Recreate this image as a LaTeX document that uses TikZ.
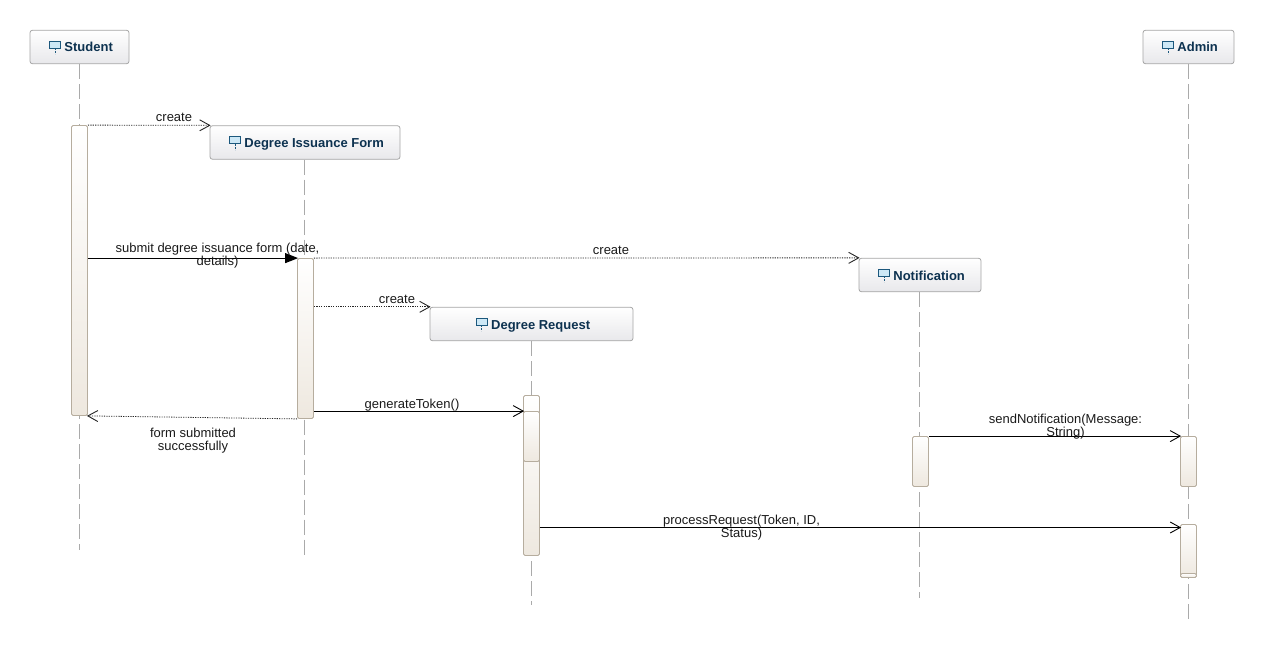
\documentclass[tikz,border=0pt]{standalone}
\usepackage{fontspec}
\setmainfont{Liberation Sans}
\usetikzlibrary{arrows.meta, positioning}
\definecolor{headtext}{RGB}{13,50,80}
\definecolor{headline}{RGB}{165,165,165}
\definecolor{headfill}{RGB}{232,232,235}
\definecolor{barline}{RGB}{182,173,158}
\definecolor{barfill}{RGB}{238,232,223}
\definecolor{lifeline}{RGB}{170,170,170}
\definecolor{iconfill}{RGB}{205,232,246}
\definecolor{iconline}{RGB}{28,88,125}
\newcommand{\lifeicon}{\hspace*{3pt}\smash{\tikz[baseline=-5pt, x=1pt, y=-1pt]{
  \draw[iconline, fill=iconfill, line width=0.8pt, sharp corners] (0,-6) rectangle (11,1);
  \draw[iconline, line width=0.8pt, dash pattern=on 2pt off 1pt] (5.5,1) -- (5.5,7);
}}\kern3.5pt}
\tikzset{
>={Straight Barb[length=10pt, width=11pt, line width=0.9pt]}, % makes the open arrow heads
head/.style={draw=headline, line width=0.8pt, rounded corners=2.5pt, top color=white, bottom color=headfill, minimum height=33.5pt, inner sep=0pt, text height=10pt, text depth=0pt, text=headtext, font=\fontsize{13}{13}\selectfont\bfseries}, % the boxes on top of the lifelines
life/.style={draw=lifeline, line width=0.8pt, dash pattern=on 15pt off 5pt}, % the vertical dashed lines
bar/.style={draw=barline, line width=0.8pt, rounded corners=1.5pt, top color=white, bottom color=barfill, minimum width=16pt, inner sep=0pt}, % the activation bars
msg/.style={black, line width=1pt, shorten >=-1pt, ->},
reply/.style={black!85, line width=0.8pt, shorten >=-1pt, dash pattern=on 1.2pt off 1.2pt, ->},
label/.style={font=\fontsize{13}{13}\selectfont, align=center, inner sep=0pt, text=black!90}
}

\begin{document}
\begin{tikzpicture}[x=1pt, y=-1pt]
      \useasboundingbox (0,0) rectangle (1263,650);

      \node[head, minimum width=99pt] (student) at (79.5,47) {\lifeicon Student};
      \node[head, minimum width=190pt] (form) at (305,142.5) {\lifeicon Degree Issuance Form};
      \node[head, minimum width=122pt] (notif) at (920,275) {\lifeicon Notification};
      \node[head, minimum width=203pt] (request) at (531.5,324) {\lifeicon Degree Request};
      \node[head, minimum width=91pt] (admin) at (1188.5,47) {\lifeicon Admin};

      \coordinate (studentend) at (79.5,550);
      \coordinate (formend) at (304.5,555);
      \coordinate (requestend) at (531.5,605);
      \coordinate (notifend) at (919.5,598);
      \coordinate (adminend) at (1188.5,620);
      \draw[life] (student.south -| studentend) -- (studentend);
      \draw[life] (form.south -| formend) -- (formend);
      \draw[life] (request) -- (requestend);
      \draw[life] (notif.south -| notifend) -- (notifend);
      \draw[life] (admin) -- (adminend);

      \node[bar, minimum height=290pt] (studentbar) at (79.5,270.5) {};
      \node[bar, minimum height=160pt] (formbar) at (305.5,338.5) {};
      \node[bar, minimum height=160pt] (requestbar) at (531.5,475.5) {};
      \node[bar, minimum height=50pt] (requestbarb) at (531.5,436.5) {};
      \node[bar, minimum height=50pt] (notifbar) at (920.5,461.5) {};
      \node[bar, minimum height=50pt] (adminbar) at (1188.5,461.5) {};
      \node[bar, minimum height=53pt] (adminbarb) at (1188.5,551) {};
      \node[bar, minimum height=4pt] (adminbarc) at (1188.5,575.5) {};
      \coordinate (processstart) at (539.5,527.5);

      \draw[reply] (studentbar.north east) -- (form.north west);
      \draw[msg, -{Triangle[length=13pt, width=10pt]}] (formbar.north west -| studentbar.east) -- (formbar.north west);
      \draw[reply] (formbar.north east) -- (notif.north west);
      \draw[reply] (request.north west -| formbar.east) -- (request.north west);
      \draw[reply] (formbar.south west) -- (studentbar.south east);
      \draw[msg] (requestbarb.north west -| formbar.east) -- (requestbarb.north west);
      \draw[msg] (notifbar.north east) -- (adminbar.north west);
      \draw[msg] (processstart) -- (processstart -| adminbarb.west);

      \node[label] (createform) at (174,117) {create};
      \node[label] (submit) at (217.5,256) {submit degree issuance form (date,\\details)};
      \node[label] (createnotif) at (611,250) {create};
      \node[label] (createrequest) at (397,299) {create};
      \node[label] (submitted) at (193,440.5) {form submitted\\successfully};
      \node[label] (token) at (412,405) {generateToken()};
      \node[label] (send) at (1065.5,427) {sendNotification(Message:\\String)};
      \node[label] (process) at (741.5,527.5) {processRequest(Token, ID,\\Status)};
    \end{tikzpicture}
\end{document}
